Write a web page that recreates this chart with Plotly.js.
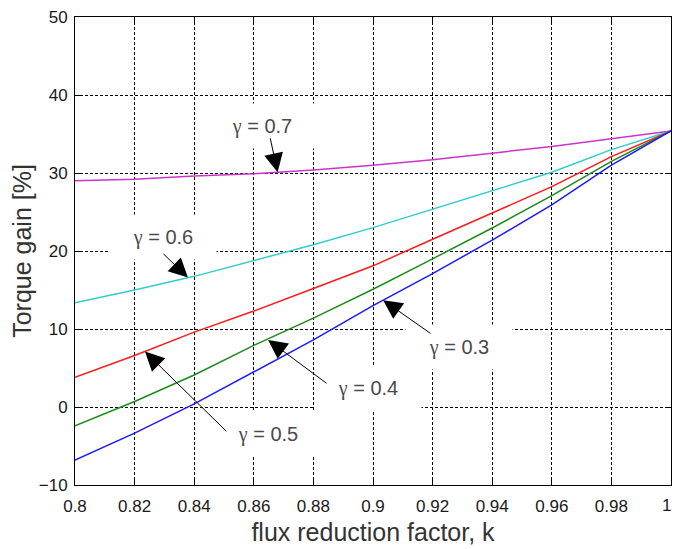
<!DOCTYPE html>
<html>
<head>
<meta charset="utf-8">
<script src="https://cdn.plot.ly/plotly-3.0.1.min.js"></script>
<style>html,body{margin:0;padding:0;background:#fff;}#chart{width:674px;height:549px;}</style>
</head>
<body>
<div id="chart"></div>
<script>
// flux reduction factor k
var k = [0.80, 0.82, 0.84, 0.86, 0.88, 0.90, 0.92, 0.94, 0.96, 0.98, 1.00];
// Torque gain [%] for each gamma
var gain07 = [29.0, 29.2, 29.6, 29.9, 30.4, 31.0, 31.7, 32.55, 33.4, 34.4, 35.4];
var gain06 = [13.35, 15.0, 16.75, 18.8, 20.8, 23.0, 25.4, 27.7, 30.1, 33.0, 35.4];
var gain05 = [3.8, 6.6, 9.6, 12.3, 15.2, 18.1, 21.5, 24.9, 28.25, 32.1, 35.4];
var gain04 = [-2.4, 0.7, 4.1, 7.9, 11.4, 15.1, 19.0, 22.95, 27.1, 31.5, 35.4];
var gain03 = [-6.8, -3.35, 0.4, 4.5, 8.6, 13.0, 17.1, 21.4, 25.9, 31.0, 35.4];

var xTicks = [0.8, 0.82, 0.84, 0.86, 0.88, 0.9, 0.92, 0.94, 0.96, 0.98, 1];
var xTickText = ["0.8", "0.82", "0.84", "0.86", "0.88", "0.9", "0.92", "0.94", "0.96", "0.98", ""];
var lastTickText = "1";
var yTicks = [-10, 0, 10, 20, 30, 40, 50];

var gammas = ["0.7", "0.6", "0.5", "0.4", "0.3"];
// label centres (k, gain), arrow tails (k, gain), arrow tips on the curves (k, gain)
var labK = [0.8628, 0.8295, 0.8648, 0.8983, 0.9289];
var labG = [36.05, 21.8, -3.5, 2.5, 7.7];
var tailK = [0.8654, 0.8292, 0.8513, 0.8849, 0.9198];
var tailG = [34.65, 19.8, -3.3, 2.9, 9.3];
var tipK = [0.868, 0.8379, 0.8235, 0.8648, 0.9034];
var tipG = [30.1, 16.6, 7.1, 8.6, 13.7];

var trColors = ["#cc33cc", "#33cccc", "#ff1a1a", "#1a8c1a", "#1a1aff"];
var series = [gain07, gain06, gain05, gain04, gain03];

var traces = series.map(function (s, i) {
  return {x: k, y: s, type: "scatter", mode: "lines",
    line: {color: trColors[i], width: 1.5}, hoverinfo: "skip", showlegend: false};
});

var tickFont = {family: "Liberation Sans, Arial, sans-serif", size: 17, color: "#1a1a1a"};
var titleFont = {family: "Liberation Sans, Arial, sans-serif", size: 25, color: "#333"};

var annotations = gammas.map(function (g, i) {
  return {x: labK[i], y: labG[i], xref: "x", yref: "y",
    text: '<span style="font-family:Liberation Serif, serif">γ</span> = ' + g,
    showarrow: false,
    font: {family: "Liberation Sans, Arial, sans-serif", size: 20, color: "#4a4a4a"},
    bgcolor: "#ffffff", width: 104, height: 42};
});
gammas.forEach(function (g, i) {
  annotations.push({x: tipK[i], y: tipG[i], xref: "x", yref: "y",
    ax: tailK[i], ay: tailG[i], axref: "x", ayref: "y",
    text: "", showarrow: true, arrowhead: 2, arrowsize: 3.8,
    arrowwidth: 1, arrowcolor: "#000"});
});
// last x tick label, right-aligned so it stays inside the picture
annotations.push({x: 1, y: 0, xref: "x", yref: "paper", text: lastTickText,
  showarrow: false, xanchor: "right", yanchor: "top", xshift: 2, yshift: -9,
  font: tickFont});

var layout = {
  width: 674, height: 549,
  margin: {l: 75, r: 3, t: 17, b: 64},
  paper_bgcolor: "#fff", plot_bgcolor: "#fff",
  xaxis: {
    range: [0.8, 1], tickvals: xTicks, ticktext: xTickText,
    showline: true, linecolor: "#000", linewidth: 1, mirror: "ticks",
    ticks: "inside", ticklen: 5, tickcolor: "#000",
    showgrid: true, gridcolor: "#000", gridwidth: 1, griddash: "3px,2px",
    zeroline: false, tickfont: tickFont,
    ticklabelstandoff: 6, automargin: false,
    title: {text: "flux reduction factor, k", font: titleFont, standoff: 8}
  },
  yaxis: {
    range: [-10, 50], tickvals: yTicks,
    showline: true, linecolor: "#000", linewidth: 1, mirror: "ticks",
    ticks: "inside", ticklen: 5, tickcolor: "#000",
    showgrid: true, gridcolor: "#000", gridwidth: 1, griddash: "3px,2px",
    zeroline: false, tickfont: tickFont, ticklabeloverflow: "allow",
    ticklabelstandoff: 3, automargin: false,
    title: {text: "Torque gain [%]", font: titleFont, standoff: 0}
  },
  annotations: annotations
};

Plotly.newPlot("chart", traces, layout, {staticPlot: true, displayModeBar: false});
</script>
</body>
</html>
